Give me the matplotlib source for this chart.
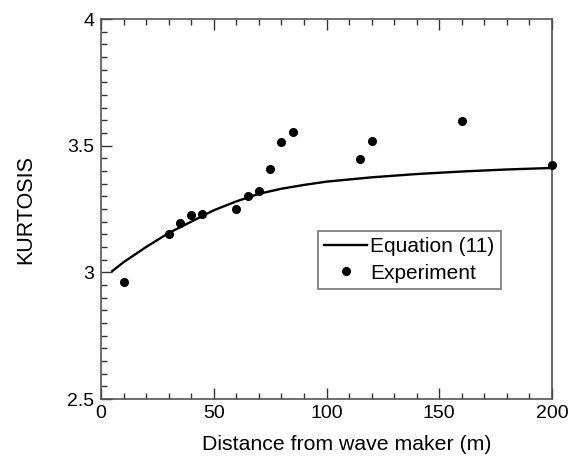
import matplotlib.pyplot as plt
from matplotlib.ticker import MultipleLocator

plt.rcParams['font.family'] = ['Liberation Sans', 'DejaVu Sans']

# Equation (11) curve
eq_x = [5, 10, 15, 20, 30, 40, 50, 60, 70, 80, 90, 100, 120, 140, 160, 180, 200]
eq_y = [3.005, 3.04, 3.07, 3.10, 3.155, 3.20, 3.245, 3.28, 3.31, 3.33, 3.345,
        3.358, 3.375, 3.388, 3.398, 3.406, 3.412]

# Experiment points
exp_x = [10, 30, 35, 40, 45, 60, 65, 70, 75, 80, 85, 115, 120, 160, 200]
exp_y = [2.963, 3.152, 3.193, 3.225, 3.23, 3.249, 3.302, 3.322, 3.408, 3.516,
         3.553, 3.449, 3.52, 3.599, 3.422]

fig = plt.figure(figsize=(5.7, 4.61), dpi=100)
ax = fig.add_axes([101/570, 1 - 399/461, 451/570, 380/461])

ax.plot(eq_x, eq_y, c='k', lw=1.7, label='Equation (11)')
ax.plot(exp_x, exp_y, 'o', c='k', ms=5.5, label='Experiment', clip_on=False, zorder=5)

ax.set_xlim(0, 200)
ax.set_ylim(2.5, 4)
ax.xaxis.set_major_locator(MultipleLocator(50))
ax.xaxis.set_minor_locator(MultipleLocator(10))
ax.yaxis.set_minor_locator(MultipleLocator(0.05))
ax.set_yticks([2.5, 3, 3.5, 4])
ax.set_yticklabels(['2.5', '3', '3.5', '4'])

ax.tick_params(which='both', direction='in', top=True, right=False,
               labelsize=14, color='#333333')
ax.tick_params(which='major', length=8, width=1)
ax.tick_params(which='minor', length=4, width=1)
ax.tick_params(axis='x', pad=4)
ax.tick_params(axis='y', pad=5)
for s in ax.spines.values():
    s.set_color('#555555')
    s.set_linewidth(1.2)

ax.set_xlabel('Distance from wave maker (m)', fontsize=15.3)
ax.xaxis.set_label_coords((347 - 101) / 451, -0.095)
ax.set_ylabel('KURTOSIS', fontsize=15.5, labelpad=22)

leg = ax.legend(loc='lower left', bbox_to_anchor=(217/451, 110/380), fontsize=15,
                frameon=True, fancybox=False, handlelength=2.05, handletextpad=0.15,
                borderpad=0.3, labelspacing=0.35, numpoints=1, borderaxespad=0)
leg.get_frame().set_edgecolor('#555555')
leg.get_frame().set_linewidth(1.2)

fig.savefig('out.png')
